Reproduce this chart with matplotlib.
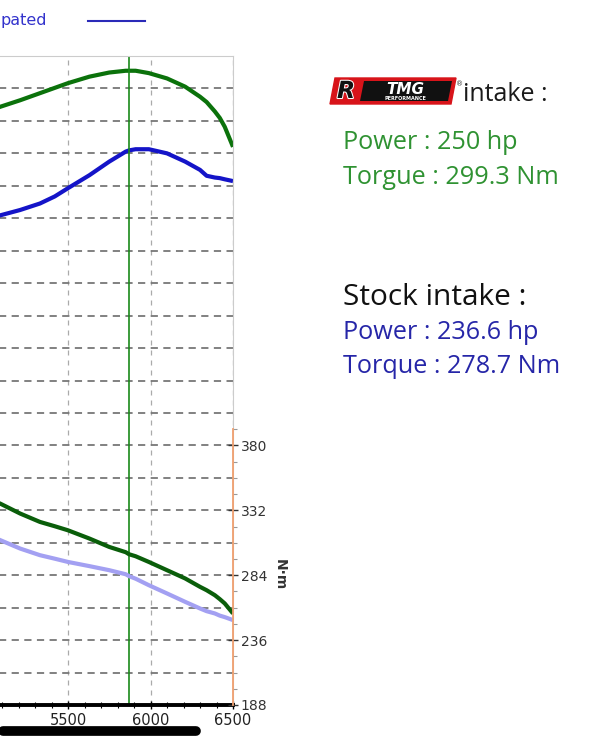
import matplotlib
matplotlib.use("Agg")
import matplotlib.pyplot as plt
import matplotlib.patheffects as pe
import numpy as np
from matplotlib.patches import Polygon
from matplotlib.ticker import MultipleLocator, FixedLocator

# dyno data
rpm = [5050, 5090, 5210, 5330, 5420, 5500, 5630, 5750, 5850, 5870, 5910,
       5990, 6100, 6210, 6300, 6340, 6390, 6420, 6450, 6500]
rtmg_hp = [243.5, 243.9, 245.0, 246.2, 247.1, 247.9, 249.0, 249.7, 250.0, 250.0, 250.0,
           249.6, 248.7, 247.3, 245.6, 244.7, 243.1, 242.0, 240.5, 237.1]
stock_hp = [225.2, 225.5, 226.4, 227.5, 228.7, 230.1, 232.3, 234.6, 236.3, 236.5, 236.7,
            236.7, 236.0, 234.6, 233.2, 232.2, 231.9, 231.8, 231.6, 231.3]
rtmg_nm = [339.0, 336.9, 329.6, 323.4, 320.2, 317.2, 311.1, 304.9, 301.0, 299.5, 298.0,
           293.8, 287.7, 281.6, 275.4, 272.9, 269.2, 266.3, 263.1, 255.7]
stock_nm = [312.0, 309.9, 303.7, 298.8, 296.2, 293.8, 290.7, 287.7, 284.7, 283.3, 281.4,
            276.6, 270.5, 264.3, 259.4, 257.4, 255.7, 254.1, 253.0, 250.8]
cursor_rpm = 5870
rpm_ticks = [4500, 5000, 5500, 6000, 6500]
rpm_labels = ["", "", "5500", "6000", "6500"]   # first two are cropped off in the screenshot
torque_ticks = [188, 236, 284, 332, 380]

W, H = 602, 750
fig = plt.figure(figsize=(W / 100, H / 100), dpi=100)
fig.patch.set_facecolor("white")

# axes placed so the left part is cropped off like the screenshot
left_px, right_px, top_px, bot_px = -97, 233, 56, 705
ax = fig.add_axes([left_px / W, 1 - bot_px / H, (right_px - left_px) / W, (bot_px - top_px) / H])
ax.set_xlim(4500, 6500)
ax.set_ylim(142.5, 252.5)

# grid
ax.set_yticks(np.arange(142.5, 252.6, 5.5))
ax.set_xticks(rpm_ticks, rpm_labels)
ax.xaxis.set_minor_locator(MultipleLocator(100))
ax.grid(axis="y", color="#777777", linestyle=(0, (4, 3)), linewidth=1.3)
ax.grid(axis="x", color="#aaaaaa", linestyle=(0, (4, 4)), linewidth=0.9)
ax.tick_params(axis="y", left=False, labelleft=False)
ax.tick_params(axis="x", which="both", direction="inout", colors="black",
               labelsize=10.5, pad=3)
ax.tick_params(axis="x", which="major", length=6, width=1)
ax.tick_params(axis="x", which="minor", length=4, width=0.8)
for lbl in ax.get_xticklabels():
    lbl.set_fontfamily("DejaVu Sans")
    lbl.set_color("#222222")
ax.spines["bottom"].set_linewidth(2.8)
ax.spines["bottom"].set_color("black")
ax.spines["top"].set_color("#cccccc")
ax.spines["right"].set_color("#cccccc")

ax.plot(rpm, rtmg_hp, color="#0b720b", lw=3.0, solid_capstyle="butt")
ax.plot(rpm, stock_hp, color="#1414c8", lw=3.0, solid_capstyle="butt")
ax.axvline(cursor_rpm, color="#1a8a1a", lw=1.2)

# torque axis on the right
ax2 = ax.twinx()
ax2.set_ylim(188, 668)
ax2.plot(rpm, rtmg_nm, color="#0a5e0a", lw=3.0, solid_capstyle="butt")
ax2.plot(rpm, stock_nm, color="#a3a0f2", lw=3.0, solid_capstyle="butt")
ax2.set_yticks(torque_ticks)
ax2.yaxis.set_minor_locator(FixedLocator(np.arange(188, 393, 12)))
ax2.tick_params(axis="y", which="major", direction="inout", length=7, width=1,
                labelsize=10, pad=2, colors="#333333")
ax2.tick_params(axis="y", which="minor", direction="out", length=3, width=0.8, colors="#999999")
for lbl in ax2.get_yticklabels():
    lbl.set_fontfamily("DejaVu Sans")
for s in ["top", "left", "bottom"]:
    ax2.spines[s].set_visible(False)
ax2.spines["right"].set_color("#f0a070")
ax2.spines["right"].set_linewidth(1.3)
ax2.spines["right"].set_bounds(188, 392)
fig.text(280 / W, 1 - 575 / H, "N·m", rotation=-90, ha="center", va="center",
         fontsize=10, fontweight="bold", color="#333333", family="DejaVu Sans")

# legend fragment at top
fig.text(0 / W, 1 - 20 / H, "pated", ha="left", va="center", fontsize=11.5,
         color="#3333cc", family="DejaVu Sans")
fig.add_artist(plt.Line2D([88 / W, 145 / W], [1 - 21 / H, 1 - 21 / H],
                          color="#2a2ab8", lw=1.5))

# black bar at the bottom of the screenshot
fig.add_artist(plt.Line2D([3 / W, 196 / W], [1 - 731 / H, 1 - 731 / H],
                          color="black", lw=7, solid_capstyle="round"))

# logo
def fp(x, y):
    return (x / W, 1 - y / H)

fig.add_artist(Polygon([fp(335, 78), fp(456, 78), fp(451, 104), fp(330, 104)],
                       closed=True, facecolor="#d8141a", edgecolor="#d8141a",
                       transform=fig.transFigure))
fig.add_artist(Polygon([fp(364, 81), fp(452, 81), fp(448, 101), fp(360, 101)],
                       closed=True, facecolor="#111111", edgecolor="none",
                       transform=fig.transFigure))
fig.text(337 / W, 1 - 91 / H, "R", fontsize=17, fontweight="bold", style="italic",
         color="#111111", ha="left", va="center", family="DejaVu Sans",
         path_effects=[pe.withStroke(linewidth=1.5, foreground="white")])
fig.text(405 / W, 1 - 89 / H, "TMG", fontsize=11, fontweight="bold", style="italic",
         color="white", ha="center", va="center", family="DejaVu Sans")
fig.text(405 / W, 1 - 98 / H, "PERFORMANCE", fontsize=3.5, fontweight="bold",
         color="white", ha="center", va="center", family="DejaVu Sans")
fig.text(456 / W, 1 - 84 / H, "®", fontsize=5, color="#333333", ha="left",
         va="center", family="DejaVu Sans")

font = "Open Sans"
fig.text(463 / W, 1 - 101 / H, "intake :", fontsize=18, color="#1a1a1a",
         ha="left", va="baseline", family=font)
fig.text(343 / W, 1 - 149 / H, "Power : 250 hp", fontsize=18.2, color="#2f9232",
         ha="left", va="baseline", family=font)
fig.text(343 / W, 1 - 184 / H, "Torgue : 299.3 Nm", fontsize=18.2, color="#2f9232",
         ha="left", va="baseline", family=font)
fig.text(343 / W, 1 - 305 / H, "Stock intake :", fontsize=21.5, color="#111111",
         ha="left", va="baseline", family=font)
fig.text(343 / W, 1 - 339 / H, "Power : 236.6 hp", fontsize=18.2, color="#2626a8",
         ha="left", va="baseline", family=font)
fig.text(343 / W, 1 - 373 / H, "Torque : 278.7 Nm", fontsize=18.2, color="#2626a8",
         ha="left", va="baseline", family=font)

fig.savefig("out.png", dpi=100)
